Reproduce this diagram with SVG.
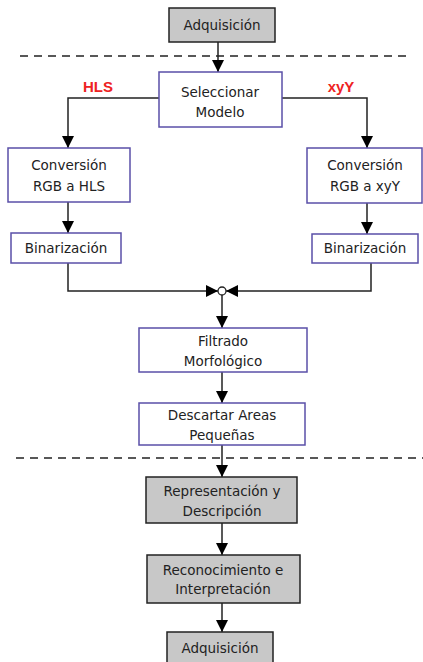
<svg xmlns="http://www.w3.org/2000/svg" width="423" height="662" viewBox="0 0 423 662">
<defs>
<marker id="ah" viewBox="0 0 10 10" refX="10" refY="5" markerWidth="12" markerHeight="12" markerUnits="userSpaceOnUse" orient="auto">
<path d="M0,0 L10,5 L0,10 z" fill="#000"/>
</marker>
<style>
.g rect{fill:#c8c8c8;stroke:#222;stroke-width:1.5}
.p rect{fill:#fff;stroke:#5a4fa8;stroke-width:1.5}
text{font-family:"DejaVu Sans",Verdana,sans-serif;font-size:13.5px;fill:#222;text-anchor:middle}
.lbl{font-family:"Liberation Sans",Arial,sans-serif;font-weight:bold;fill:#ee2222;font-size:15px}
.c line,.c path{stroke:#222;stroke-width:1.5;fill:none}
.d{stroke:#222;stroke-width:1.3;stroke-dasharray:8,6}
</style>
</defs>
<rect width="423" height="662" fill="#fff"/>
<line class="d" x1="20" y1="56" x2="412" y2="56"/>
<line class="d" x1="16" y1="458" x2="423" y2="458"/>
<g class="c">
<line x1="218" y1="42" x2="218" y2="72" marker-end="url(#ah)"/>
<path d="M159,98 H68 V148" marker-end="url(#ah)"/>
<path d="M282,98 H367 V148" marker-end="url(#ah)"/>
<line x1="68" y1="202" x2="68" y2="233" marker-end="url(#ah)"/>
<line x1="367" y1="203" x2="367" y2="234" marker-end="url(#ah)"/>
<path d="M68,263 V291 H218" marker-end="url(#ah)"/>
<path d="M371,263 V291 H226" marker-end="url(#ah)"/>
<circle cx="222" cy="291" r="4" fill="#fff" stroke="#222" stroke-width="1.3"/>
<line x1="222" y1="295" x2="222" y2="328" marker-end="url(#ah)"/>
<line x1="222" y1="372" x2="222" y2="403" marker-end="url(#ah)"/>
<line x1="222" y1="445" x2="222" y2="477" marker-end="url(#ah)"/>
<line x1="222" y1="523" x2="222" y2="555" marker-end="url(#ah)"/>
<line x1="222" y1="603" x2="222" y2="632" marker-end="url(#ah)"/>
</g>
<g id="adq1" class="g"><rect x="169" y="8" width="106" height="34"/><text x="222" y="30">Adquisición</text></g>
<g id="sel" class="p"><rect x="159" y="72" width="123" height="55"/><text x="220" y="97">Seleccionar</text><text x="220" y="117">Modelo</text></g>
<text class="lbl" x="98" y="92">HLS</text>
<text class="lbl" x="341" y="92">xyY</text>
<g id="convHLS" class="p"><rect x="8" y="148" width="122" height="54"/><text x="69" y="170">Conversión</text><text x="69" y="191">RGB a HLS</text></g>
<g id="convXYY" class="p"><rect x="307" y="148" width="115" height="55"/><text x="365" y="170">Conversión</text><text x="365" y="191">RGB a xyY</text></g>
<g id="binHLS" class="p"><rect x="11" y="233" width="110" height="30"/><text x="66" y="253">Binarización</text></g>
<g id="binXYY" class="p"><rect x="312" y="234" width="106" height="29"/><text x="365" y="253">Binarización</text></g>
<g id="filt" class="p"><rect x="139" y="328" width="168" height="44"/><text x="223" y="346">Filtrado</text><text x="223" y="366">Morfológico</text></g>
<g id="desc" class="p"><rect x="139" y="403" width="166" height="42"/><text x="222" y="420">Descartar Areas</text><text x="222" y="440">Pequeñas</text></g>
<g id="rep" class="g"><rect x="146" y="477" width="151" height="46"/><text x="222" y="496">Representación y</text><text x="222" y="516">Descripción</text></g>
<g id="rec" class="g"><rect x="147" y="555" width="153" height="48"/><text x="223" y="575">Reconocimiento e</text><text x="223" y="594">Interpretación</text></g>
<g id="adq2" class="g"><rect x="167" y="632" width="106" height="34"/><text x="220" y="653">Adquisición</text></g>
</svg>
